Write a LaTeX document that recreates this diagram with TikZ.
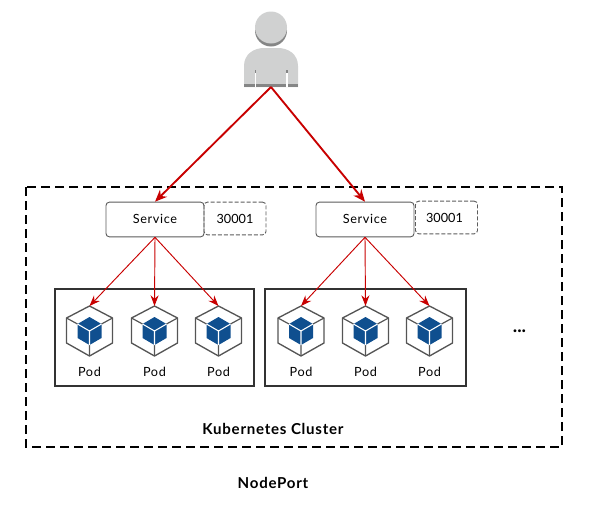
\documentclass[tikz,border=0pt]{standalone}
\usepackage{fontspec}
\setmainfont{Lato}
\usetikzlibrary{arrows.meta}
\definecolor{linkred}{HTML}{C80000}
\definecolor{cubeblue}{HTML}{0F4F8F}
\definecolor{hexgray}{HTML}{555555}
\definecolor{boxdark}{HTML}{333333}
\definecolor{userlight}{HTML}{D0D1D1}
\definecolor{usershade}{HTML}{858686}
\tikzset{
    mainlink/.style={draw=linkred, line width=1.4pt, -{Stealth[length=9pt,width=7.5pt]}},
    podlink/.style={draw=linkred, line width=0.7pt, -{Stealth[length=8pt,width=6pt]}},
    servicebox/.style={draw=boxdark!80, line width=0.7pt, rounded corners=2.5pt, fill=white, minimum width=73.5pt, minimum height=26pt, inner sep=0pt, text depth=1.5pt, font=\fontsize{9.5}{11}\selectfont\addfontfeatures{LetterSpace=5}},
    portbox/.style={draw=boxdark!80, line width=0.7pt, dashed, dash pattern=on 3pt off 1.5pt, rounded corners=2.5pt, minimum width=46.5pt, minimum height=24.5pt, inner sep=0pt, font=\fontsize{9.5}{11}\selectfont},
    podgroup/.style={draw=boxdark, line width=1.5pt},
    podlabel/.style={font=\fontsize{9.5}{11}\selectfont\addfontfeatures{LetterSpace=5}, inner sep=0pt},
    boldlabel/.style={font=\fontsize{11.3}{13}\selectfont\bfseries\addfontfeatures{LetterSpace=5}, inner sep=0pt},
    podcube/.pic={
        \draw[hexgray, line width=1pt, line join=round] (0,-25) -- (23,-13) -- (23,12) -- (0,25) -- (-23,12) -- (-23,-13) -- cycle;
        \draw[hexgray, line width=0.9pt] (-23,-13) -- (-12,-7) (23,-13) -- (12,-7) (0,14) -- (0,25);
        \fill[cubeblue] (0,-14) -- (12,-7) -- (12,7) -- (0,14) -- (-12,7) -- (-12,-7) -- cycle;
        \draw[white, line width=0.8pt] (-12,-7) -- (0,0) -- (12,-7) (0,0) -- (0,14);
    }
}
\begin{document}
\begin{tikzpicture}[x=0.75pt, y=-0.75pt]
    \useasboundingbox (0,0) rectangle (589,507);
    % user
    \fill[usershade] (271,30.5) circle (16);
    \fill[userlight] (271,27.5) circle (16);
    \fill[userlight] (244,87) -- (244,66) .. controls (244,54) and (254,48) .. (264,48) -- (278,48) .. controls (288,48) and (298,54) .. (298,66) -- (298,87) -- cycle;
    \fill[usershade] (244,84) rectangle (298,87);
    \fill[white] (254.5,70) rectangle (256,87);
    \fill[white] (286,70) rectangle (287.5,87);
    \fill[usershade] (254.5,70) rectangle (256,73);
    \fill[usershade] (286,70) rectangle (287.5,73);
    \coordinate (user) at (271,87);
    % cluster
    \draw[black, line width=1.5pt, dash pattern=on 7pt off 3.5pt] (26,187) rectangle (562,447);
    \node[servicebox] (serviceA) at (155,219.5) {Service};
    \node[portbox] (portA) at (235,218.5) {30001};
    \node[servicebox] (serviceB) at (365,219.5) {Service};
    \node[portbox] (portB) at (446.5,217.5) {\kern-3pt 30001};
    \draw[podgroup] (55,289) rectangle (254,386);
    \draw[podgroup] (265,289) rectangle (466,386);
    % pods
    \foreach \x/\podname in {89.5/podA, 154.5/podB, 218.5/podC, 301/podD, 365.5/podE, 429.5/podF} {
        \pic at (\x,331) {podcube};
        \node[podlabel] (\podname label) at (\x,372) {Pod};
        \coordinate (\podname) at (\x,306);
    }
    % links
    \draw[mainlink] (user) -- (serviceA.north);
    \draw[mainlink] (user) -- (serviceB.north);
    \foreach \podname in {podA, podB, podC}
        \draw[podlink] (serviceA.south) -- (\podname);
    \foreach \podname in {podD, podE, podF}
        \draw[podlink] (serviceB.south) -- (\podname);
    \node[font=\fontsize{14}{14}\selectfont\bfseries, inner sep=0pt] (dots) at (519.5,331) {...};
    \node[boldlabel] (clustername) at (273,428.5) {Kubernetes Cluster};
    \node[boldlabel] (modename) at (273,482.5) {NodePort};
\end{tikzpicture}
\end{document}
